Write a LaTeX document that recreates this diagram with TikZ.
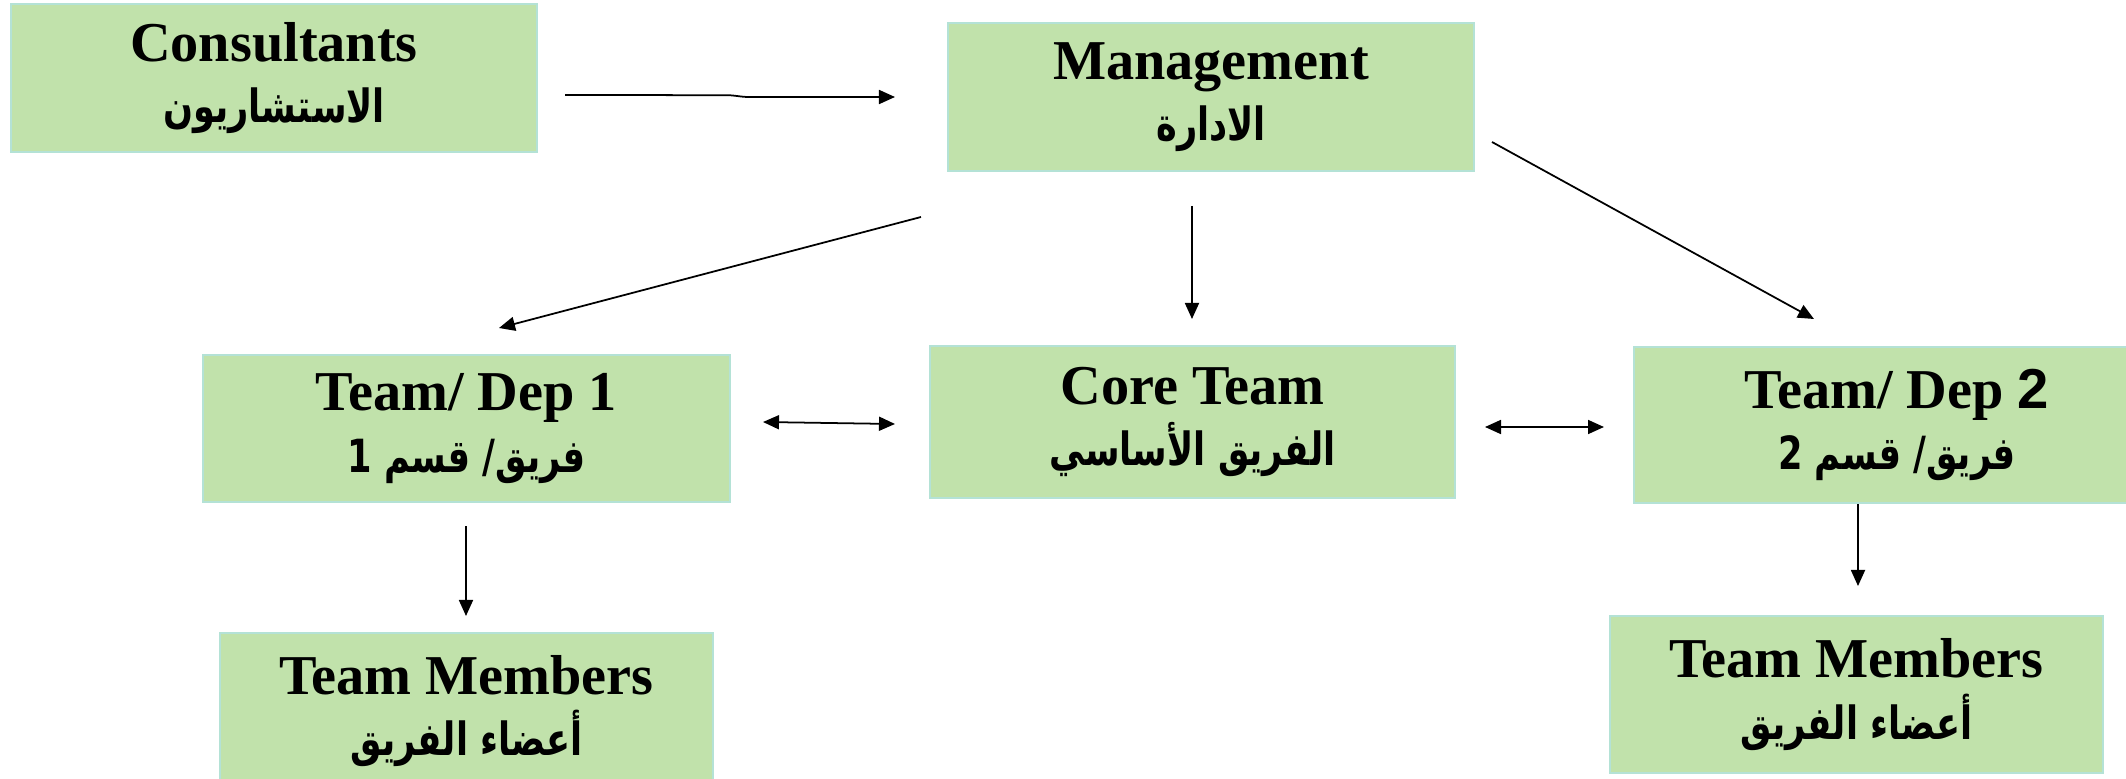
\documentclass[tikz,border=0pt]{standalone}
\usepackage{fontspec}
\usepackage{graphicx}
\setmainfont{Liberation Serif}
\newfontfamily\arabicfont[Script=Arabic]{DejaVu Sans}
\newfontfamily\numfont{Liberation Sans}
\TeXXeTstate=1
\usetikzlibrary{arrows.meta}
\definecolor{boxfill}{RGB}{193,226,171}
\definecolor{boxline}{RGB}{180,226,214}
\tikzset{
  box/.style={draw=boxline, line width=0.02cm, fill=boxfill, align=center,
    inner sep=0pt, font=\fontsize{16}{17.5}\selectfont\bfseries},
  conn/.style={line width=0.5pt, -{Triangle[length=0.16cm,width=0.14cm]}},
  biconn/.style={line width=0.5pt, {Triangle[length=0.16cm,width=0.14cm]}-{Triangle[length=0.16cm,width=0.14cm]}},
}
\newcommand{\ar}[1]{\scalebox{1}[1.3]{\arabicfont\bfseries\fontsize{10}{16}\selectfont\beginR #1\endR}}
\begin{document}
\begin{tikzpicture}[x=0.01cm,y=-0.01cm]
\useasboundingbox (0,0) rectangle (2126,779);
\node[box, minimum width=5.26cm, minimum height=1.48cm] (cons) at (274,78) {Consultants\\\ar{الاستشاريون}};
\node[box, minimum width=5.26cm, minimum height=1.48cm] (mgmt) at (1211,97) {Management\\\ar{الادارة}};
\node[box, minimum width=5.27cm, minimum height=1.47cm] (dep1) at (466.5,428.5) {Team/ Dep 1\\\ar{فريق/ قسم 1}};
\node[box, minimum width=5.25cm, minimum height=1.52cm] (core) at (1192.5,422) {Core Team\\\ar{الفريق الأساسي}};
\node[box, minimum width=5.26cm, minimum height=1.55cm] (dep2) at (1897,425) {Team/ Dep {\numfont 2}\\\ar{فريق/ قسم 2}};
\node[box, minimum width=4.93cm, minimum height=1.56cm] (tm1) at (466.5,711) {Team Members\\\ar{أعضاء الفريق}};
\node[box, minimum width=4.93cm, minimum height=1.56cm] (tm2) at (1856.5,694.5) {Team Members\\\ar{أعضاء الفريق}};
% connector end points
\coordinate (c1) at (565,95);
\coordinate (m1) at (895,97);
\coordinate (ma) at (921,217);
\coordinate (da) at (499,328);
\coordinate (mb) at (1192,206);
\coordinate (cb) at (1192,319);
\coordinate (mc) at (1492,142);
\coordinate (dc) at (1814,319);
\coordinate (d1r) at (763,422);
\coordinate (cl) at (895,424);
\coordinate (cr) at (1485,427);
\coordinate (d2l) at (1604,427);
\coordinate (d1b) at (466,526);
\coordinate (t1t) at (466,616);
\coordinate (d2b) at (1858,504);
\coordinate (t2t) at (1858,586);
\draw[conn] (c1) -- (728,95.2) .. controls (736,95.5) and (740,96.8) .. (748,97) -- (m1);
\draw[conn] (ma) -- (da);
\draw[conn] (mb) -- (cb);
\draw[conn] (mc) -- (dc);
\draw[biconn] (d1r) -- (cl);
\draw[biconn] (cr) -- (d2l);
\draw[conn] (d1b) -- (t1t);
\draw[conn] (d2b) -- (t2t);
\end{tikzpicture}
\end{document}
